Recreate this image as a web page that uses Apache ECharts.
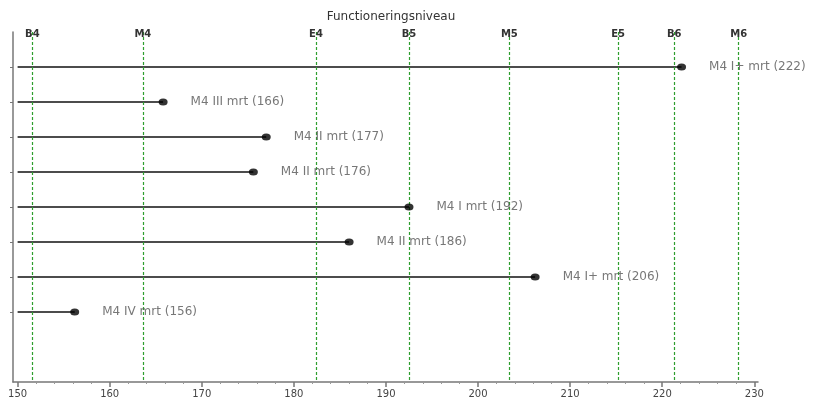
<!DOCTYPE html>
<html><head><meta charset="utf-8">
<script src="https://cdn.jsdelivr.net/npm/echarts@6/dist/echarts.min.js"></script>
<style>html,body{margin:0;padding:0;background:#fff}#c{width:816px;height:404px}</style>
</head><body><div id="c"></div>
<script>
const titleText = 'Functioneringsniveau';
const levelNames = ['B4','M4','E4','B5','M5','E5','B6','M6'];
const levelValues = [151.6,163.6,182.4,192.5,203.4,215.2,221.3,228.3];
const rowLabels = ['M4 I+ mrt (222)','M4 III mrt (166)','M4 II mrt (177)','M4 II mrt (176)','M4 I mrt (192)','M4 II mrt (186)','M4 I+ mrt (206)','M4 IV mrt (156)'];
const rowValues = [222.1,165.8,177.0,175.6,192.5,186.0,206.2,156.2];
const rowPositions = [1,2,3,4,5,6,7,8];
const lineStart = 150;
const xTickLabels = [150,160,170,180,190,200,210,220,230];
const xMinorTicks = [152,154,156,158,162,164,166,168,172,174,176,178,182,184,186,188,192,194,196,198,202,204,206,208,212,214,216,218,222,224,226,228];

const FONT = 'DejaVu Sans';
const chart = echarts.init(document.getElementById('c'), null, {renderer:'canvas'});

const series = [];
rowValues.forEach((v,i)=>{
  series.push({
    type:'line', xAxisIndex:0, yAxisIndex:0, symbol:'none', silent:true,
    lineStyle:{color:'#111', width:1.5},
    data:[[lineStart,rowPositions[i]],[v,rowPositions[i]]]
  });
});
series.push({
  type:'scatter', xAxisIndex:0, yAxisIndex:0, symbol:'circle', symbolSize:[9,7],
  itemStyle:{color:'#000'},
  label:{show:true, position:'right', distance:23, color:'#555', fontFamily:FONT, fontSize:12,
    formatter:p=>p.name},
  data:rowValues.map((v,i)=>({name:rowLabels[i], value:[v,rowPositions[i]]})),
  markLine:{
    silent:true, symbol:['none','none'],
    lineStyle:{color:'#2e9e2e', type:[3,2], width:1.2},
    label:{show:true, position:'start', distance:-7, color:'#333', fontFamily:FONT, fontSize:10, fontWeight:'bold',
      formatter:p=>p.name},
    data:levelValues.map((v,i)=>({name:levelNames[i], xAxis:v}))
  },
  z:5
});

chart.setOption({
  animation:false,
  title:{text:titleText, left:386, top:6, textAlign:'center',
    textStyle:{fontFamily:FONT, fontSize:12, fontWeight:'normal', color:'#333'}},
  grid:{left:13, right:58, top:32, bottom:22, containLabel:false},
  xAxis:[{
    type:'value', min:149.5, max:230.4, position:'bottom',
    axisLine:{show:true, onZero:false, lineStyle:{color:'#777', width:1.5}},
    axisTick:{show:true, length:5, customValues:xTickLabels, lineStyle:{color:'#777', width:1.5}},
    axisLabel:{customValues:xTickLabels, color:'#444', fontFamily:FONT, fontSize:10, margin:7},
    splitLine:{show:false}
  },{
    type:'value', min:149.5, max:230.4, position:'bottom',
    axisLine:{show:false, onZero:false},
    axisTick:{show:true, length:2, customValues:xMinorTicks, lineStyle:{color:'#999', width:1}},
    axisLabel:{show:false},
    splitLine:{show:false}
  }],
  yAxis:[{
    type:'value', min:0, max:10, inverse:true,
    axisLine:{show:true, onZero:false, lineStyle:{color:'#777', width:1.5}},
    axisTick:{show:true, length:3, customValues:rowPositions, lineStyle:{color:'#777'}},
    axisLabel:{show:false},
    splitLine:{show:false}
  }],
  series:series
});
</script></body></html>
